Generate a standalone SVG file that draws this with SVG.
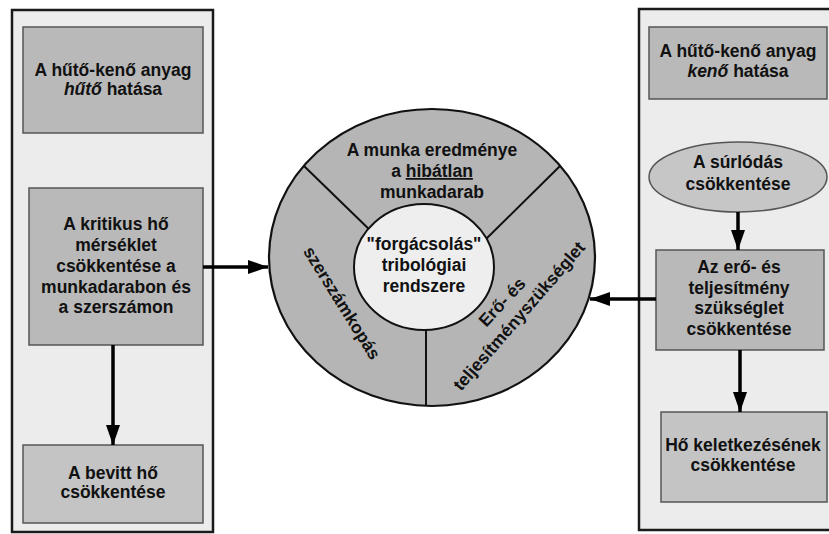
<svg xmlns="http://www.w3.org/2000/svg" width="829" height="534" viewBox="0 0 829 534">
<style>
text{font-family:"Liberation Sans",Arial,sans-serif;font-weight:bold;font-size:17.5px;fill:#111;text-anchor:middle}
.panel{fill:#ececec;stroke:#1a1a1a;stroke-width:2.5}
.box{fill:#b9b9b9;stroke:#555;stroke-width:1.5}
.box2{fill:#c4c4c4;stroke:#555;stroke-width:1.5}
.conn{stroke:#000;stroke-width:3.5;fill:none;marker-end:url(#ah)}
.div{stroke:#111;stroke-width:2;fill:none}
.rot{dominant-baseline:central}
</style>
<defs>
<marker id="ah" viewBox="0 0 20 14" refX="20" refY="7" markerWidth="20" markerHeight="14" markerUnits="userSpaceOnUse" orient="auto">
<path d="M0,0 L20,7 L0,14 z" fill="#000"/>
</marker>
</defs>
<rect width="829" height="534" fill="#fff"/>
<g id="left-panel">
<rect class="panel" x="12" y="10" width="201" height="522"/>
</g>
<g id="right-panel">
<rect class="panel" x="639" y="9" width="200" height="521"/>
</g>
<g id="node-l1">
<rect class="box" x="23" y="27" width="180" height="106"/>
<text x="113" y="76">A hűtő-kenő anyag</text>
<text x="113" y="95"><tspan font-style="italic">hűtő</tspan> hatása</text>
</g>
<g id="node-l2">
<rect class="box" x="29" y="188" width="174" height="157"/>
<text x="116" y="230">A kritikus hő</text>
<text x="116" y="251">mérséklet</text>
<text x="116" y="272">csökkentése a</text>
<text x="116" y="293">munkadarabon és</text>
<text x="116" y="313">a szerszámon</text>
</g>
<g id="node-l3">
<rect class="box2" x="23" y="445" width="180" height="78"/>
<text x="113" y="479">A bevitt hő</text>
<text x="113" y="498">csökkentése</text>
</g>
<g id="node-r1">
<rect class="box" x="649" y="27" width="178" height="72"/>
<text x="738" y="57">A hűtő-kenő anyag</text>
<text x="738" y="77"><tspan font-style="italic">kenő</tspan> hatása</text>
</g>
<g id="node-r-ellipse">
<ellipse cx="738" cy="177" rx="89" ry="35" fill="#c6c6c6" stroke="#555" stroke-width="1.5"/>
<text x="738" y="168">A súrlódás</text>
<text x="738" y="190">csökkentése</text>
</g>
<g id="node-r2">
<rect class="box" x="656" y="250" width="168" height="100"/>
<text x="739" y="273">Az erő- és</text>
<text x="739" y="294">teljesítmény</text>
<text x="739" y="314">szükséglet</text>
<text x="739" y="335">csökkentése</text>
</g>
<g id="node-r3">
<rect class="box2" x="661" y="412" width="166" height="90"/>
<text x="743" y="451">Hő keletkezésének</text>
<text x="743" y="471">csökkentése</text>
</g>
<g id="node-circle">
<ellipse cx="432" cy="257.5" rx="163" ry="148.5" fill="#b5b5b5"/>
<path class="div" d="M304,166 L375,235 M560,166 L485,240 M426,320 L426,406"/>
<ellipse cx="424" cy="267" rx="70" ry="63" fill="#eeeeee" stroke="#111" stroke-width="2"/>
<ellipse cx="432" cy="257.5" rx="163" ry="148.5" fill="none" stroke="#111" stroke-width="2.2"/>
<text x="432" y="156">A munka eredménye</text>
<text x="432" y="177">a <tspan text-decoration="underline">hibátlan</tspan></text>
<text x="432" y="198">munkadarab</text>
<text x="424" y="250">"forgácsolás"</text>
<text x="424" y="271">tribológiai</text>
<text x="424" y="292">rendszere</text>
<text class="rot" transform="translate(342,303) rotate(58)">szerszámkopás</text>
<text class="rot" transform="translate(502,302) rotate(-47)">Erő- és</text>
<text class="rot" transform="translate(519,316) rotate(-49)">teljesítményszükséglet</text>
</g>
<g id="connectors">
<path class="conn" d="M113,345 L113,445"/>
<path class="conn" d="M203,267 L268,267"/>
<path class="conn" d="M738,212 L738,250"/>
<path class="conn" d="M656,299 L590,299"/>
<path class="conn" d="M740,350 L740,412"/>
</g>
</svg>
